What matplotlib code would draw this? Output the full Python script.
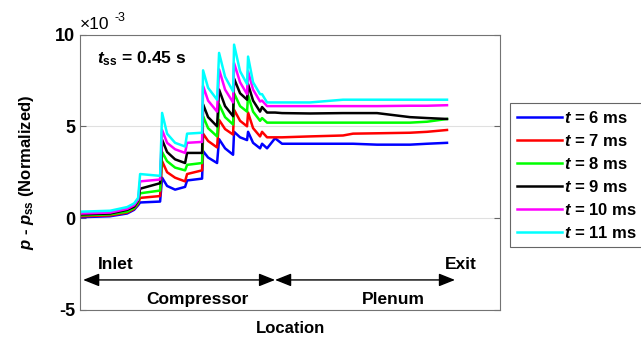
import numpy as np
import matplotlib
matplotlib.use("Agg")
import matplotlib.pyplot as plt

plt.rcParams['font.family'] = 'Liberation Sans'
plt.rcParams['font.weight'] = 'bold'
plt.rcParams['axes.labelweight'] = 'bold'
plt.rcParams['axes.unicode_minus'] = False
plt.rcParams['mathtext.fontset'] = 'custom'
plt.rcParams['mathtext.rm'] = 'Liberation Sans:bold'
plt.rcParams['mathtext.it'] = 'Liberation Sans:italic:bold'
plt.rcParams['mathtext.bf'] = 'Liberation Sans:bold'

# location along the rig (arbitrary units, axis spans 0..420)
loc = [1, 30, 47, 54, 58, 60, 80, 82, 87, 95, 105, 107, 122, 123, 128, 137, 139, 145,
       153, 154, 160, 167, 168, 173, 180, 182, 187, 195, 202, 230, 263, 273, 297, 330,
       347, 367]

# p - p_ss, in units of 1e-3
p_6ms = [0.05, 0.1, 0.25, 0.45, 0.7, 0.85, 0.9, 2.2, 1.75, 1.55, 1.7, 2.05, 2.15, 3.65,
         3.3, 3.0, 4.3, 3.8, 3.45, 4.7, 4.4, 4.25, 4.7, 4.1, 3.8, 4.05, 3.8, 4.35, 4.05,
         4.05, 4.05, 4.05, 4.0, 4.0, 4.05, 4.1]
p_7ms = [0.1, 0.15, 0.3, 0.5, 0.78, 1.1, 1.2, 3.1, 2.5, 2.2, 2.0, 2.4, 2.6, 4.6,
         4.2, 3.85, 5.35, 4.85, 4.55, 5.9, 5.3, 5.0, 5.75, 4.9, 4.45, 4.7, 4.4, 4.4, 4.4,
         4.45, 4.5, 4.6, 4.62, 4.65, 4.7, 4.8]
p_8ms = [0.15, 0.2, 0.35, 0.55, 0.85, 1.35, 1.5, 3.6, 3.1, 2.75, 2.6, 2.9, 3.0, 5.55,
         4.9, 4.45, 6.2, 5.5, 5.1, 6.8, 6.1, 5.8, 6.7, 5.8, 5.3, 5.45, 5.2, 5.2, 5.2,
         5.2, 5.2, 5.2, 5.2, 5.2, 5.25, 5.4]
p_9ms = [0.2, 0.25, 0.45, 0.62, 0.95, 1.6, 1.9, 4.27, 3.6, 3.2, 3.0, 3.55, 3.55, 6.2,
         5.5, 5.0, 7.0, 6.1, 5.55, 7.6, 6.8, 6.45, 7.3, 6.4, 5.8, 6.05, 5.75, 5.75, 5.72,
         5.7, 5.72, 5.72, 5.72, 5.5, 5.45, 5.4]
p_10ms = [0.25, 0.3, 0.5, 0.7, 1.0, 2.0, 2.1, 4.8, 4.1, 3.75, 3.55, 4.1, 4.15, 7.2,
          6.4, 5.8, 8.1, 7.0, 6.3, 8.45, 7.4, 6.75, 8.0, 7.0, 6.35, 6.4, 6.1, 6.1, 6.1,
          6.1, 6.1, 6.1, 6.1, 6.12, 6.12, 6.15]
p_11ms = [0.35, 0.4, 0.6, 0.8, 1.1, 2.4, 2.3, 5.73, 4.6, 4.1, 3.9, 4.6, 4.65, 8.05,
          7.1, 6.45, 9.0, 7.7, 6.9, 9.45, 8.0, 7.3, 8.8, 7.4, 6.75, 6.75, 6.3, 6.3, 6.3,
          6.3, 6.45, 6.45, 6.45, 6.45, 6.45, 6.45]

series = [p_6ms, p_7ms, p_8ms, p_9ms, p_10ms, p_11ms]
labels = [r'$t$ = 6 ms', r'$t$ = 7 ms', r'$t$ = 8 ms', r'$t$ = 9 ms', r'$t$ = 10 ms', r'$t$ = 11 ms']
colors = ['#0000ff', '#ff0000', '#00ff00', '#000000', '#ff00ff', '#00ffff']

fig = plt.figure(figsize=(6.41, 3.42), dpi=100)
ax = fig.add_axes([0.125, 0.094, 0.655, 0.805])

for y, lab, c in zip(series, labels, colors):
    ax.plot(loc, y, color=c, lw=1.8, label=lab)

ax.set_xlim(0, 420)
ax.set_ylim(-5, 10)
ax.set_xticks([])
ax.set_yticks([-5, 0, 5, 10])
ax.tick_params(axis='y', direction='in', length=4, right=True, labelsize=13, width=0.8, color='0.4')
ax.grid(axis='y', color='0.88', lw=0.8)
for s in ax.spines.values():
    s.set_color('0.45')
    s.set_linewidth(0.8)

ax.set_ylabel(r'$p$ - $p_{\mathrm{ss}}$ (Normalized)', fontsize=12, labelpad=14)
ax.set_xlabel('Location', fontsize=12, labelpad=8)

# exponent label like MATLAB
ax.text(0.0, 1.008, '\u00d710', transform=ax.transAxes, fontsize=12.5, fontweight='normal',
        ha='left', va='bottom')
ax.text(0.083, 1.04, '-3', transform=ax.transAxes, fontsize=9, fontweight='normal',
        ha='left', va='bottom')

ax.text(17, 8.7, r'$t_{\mathrm{ss}}$ = 0.45 s', fontsize=12.5, ha='left', va='center')

# region arrows
arr = dict(arrowstyle='<|-|>,head_length=0.7,head_width=0.28', color='black', lw=1.0,
           mutation_scale=14, shrinkA=0, shrinkB=0)
ax.annotate('', xy=(3, -3.37), xytext=(195, -3.37), arrowprops=arr)
ax.annotate('', xy=(195, -3.37), xytext=(375, -3.37), arrowprops=arr)
ax.text(18, -2.55, 'Inlet', fontsize=12.5, ha='left', va='center')
ax.text(397, -2.55, 'Exit', fontsize=12.5, ha='right', va='center')
ax.text(117, -4.45, 'Compressor', fontsize=12.5, ha='center', va='center')
ax.text(313, -4.45, 'Plenum', fontsize=12.5, ha='center', va='center')

leg = fig.legend(loc='upper left', bbox_to_anchor=(510 / 641, 1 - 103 / 342), fontsize=12,
                 frameon=True, fancybox=False, edgecolor='0.4', framealpha=1,
                 handlelength=2.7, handletextpad=0.15, labelspacing=0.42, borderpad=0.4,
                 borderaxespad=0)
leg.get_frame().set_linewidth(0.8)

fig.savefig('out.png', dpi=100)
